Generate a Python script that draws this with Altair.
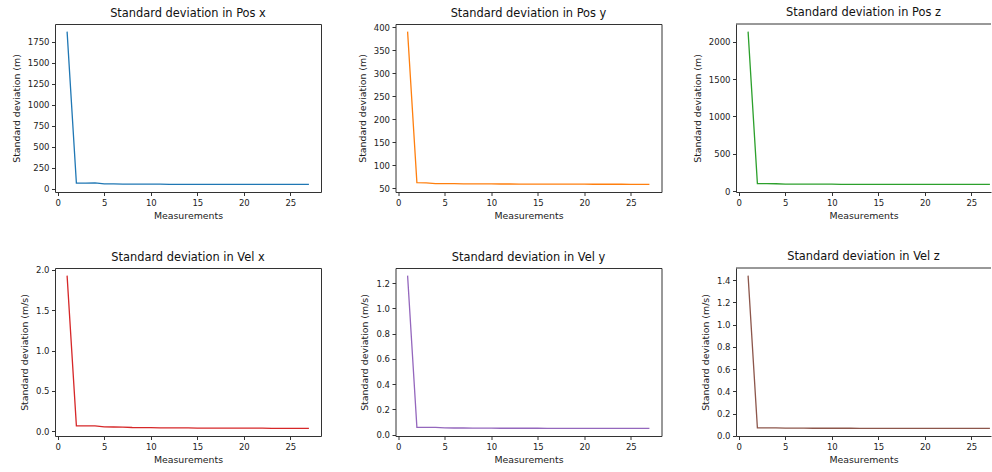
import altair as alt
import pandas as pd

measurements = list(range(1, 28))

pos_x = [1870, 65, 66, 68, 57, 56, 55, 54, 54, 53, 53, 52, 52, 52, 52, 52, 51, 51, 51, 51, 51, 51, 51, 51, 51, 51, 51]
pos_y = [390, 62, 61.5, 60, 59.8, 59.6, 59.4, 59.3, 59.2, 59.1, 59, 59, 58.9, 58.9, 58.8, 58.8, 58.7, 58.7, 58.6, 58.6, 58.5, 58.5, 58.4, 58.4, 58.3, 58.3, 58.2]
pos_z = [2135, 102, 101, 100, 96, 95, 95, 94, 94, 94, 93, 93, 93, 93, 93, 93, 92, 92, 92, 92, 92, 92, 92, 92, 92, 92, 92]
vel_x = [1.93, 0.066, 0.066, 0.065, 0.054, 0.052, 0.050, 0.046, 0.045, 0.044, 0.042, 0.041, 0.040, 0.040, 0.039, 0.039, 0.038, 0.038, 0.038, 0.037, 0.037, 0.037, 0.036, 0.036, 0.036, 0.035, 0.035]
vel_y = [1.26, 0.058, 0.058, 0.058, 0.054, 0.053, 0.053, 0.052, 0.052, 0.052, 0.051, 0.051, 0.051, 0.051, 0.051, 0.050, 0.050, 0.050, 0.050, 0.050, 0.050, 0.050, 0.050, 0.050, 0.050, 0.050, 0.050]
vel_z = [1.44, 0.073, 0.073, 0.073, 0.071, 0.070, 0.070, 0.069, 0.069, 0.069, 0.069, 0.069, 0.068, 0.068, 0.068, 0.068, 0.068, 0.068, 0.068, 0.068, 0.068, 0.068, 0.068, 0.068, 0.068, 0.068, 0.068]

titles = ["Standard deviation in Pos x", "Standard deviation in Pos y", "Standard deviation in Pos z",
          "Standard deviation in Vel x", "Standard deviation in Vel y", "Standard deviation in Vel z"]
y_titles = ["Standard deviation (m)"] * 3 + ["Standard deviation (m/s)"] * 3
colors = ["#1f77b4", "#ff7f0e", "#2ca02c", "#d62728", "#9467bd", "#8c564b"]
y_ticks = [
    [0, 250, 500, 750, 1000, 1250, 1500, 1750],
    [50, 100, 150, 200, 250, 300, 350, 400],
    [0, 500, 1000, 1500, 2000],
    [0.0, 0.5, 1.0, 1.5, 2.0],
    [0.0, 0.2, 0.4, 0.6, 0.8, 1.0, 1.2],
    [0.0, 0.2, 0.4, 0.6, 0.8, 1.0, 1.2, 1.4],
]
y_formats = ["d", "d", "d", ".1f", ".1f", ".1f"]
x_ticks = [0, 5, 10, 15, 20, 25]
series = [pos_x, pos_y, pos_z, vel_x, vel_y, vel_z]

W, H = 266, 168
W_LAST = 255  # right column is cut by the picture's edge
LABEL_FS = 8.5
TITLE_OFFSET = 5


def panel(i):
    vals = series[i]
    lo, hi = min(vals), max(vals)
    m = 0.05 * (hi - lo)
    y_lo, y_hi = lo - m, hi + m
    xm = 0.05 * (measurements[-1] - measurements[0])
    x_lo, x_hi = measurements[0] - xm, measurements[-1] + xm
    last = (i % 3 == 2)
    width = W
    if last:
        width = W_LAST
        x_hi = x_lo + (x_hi - x_lo) * W_LAST / W
    # keep every title at the same height even when a top tick label pokes above the frame
    top_px = (y_hi - max(y_ticks[i])) / (y_hi - y_lo) * H
    overshoot = max(0.0, LABEL_FS / 2 - top_px)
    ttl = alt.TitleParams(titles[i], offset=TITLE_OFFSET - overshoot)

    df = pd.DataFrame({"Measurements": measurements, "value": vals})
    line = alt.Chart(df).mark_line(color=colors[i], strokeWidth=1.3, clip=True).encode(
        x=alt.X("Measurements:Q",
                scale=alt.Scale(domain=[x_lo, x_hi], nice=False, zero=False),
                axis=alt.Axis(values=x_ticks, format="d", title="Measurements",
                              labelPadding=3, titlePadding=4, domain=last)),
        y=alt.Y("value:Q",
                scale=alt.Scale(domain=[y_lo, y_hi], nice=False, zero=False),
                axis=alt.Axis(values=y_ticks[i], format=y_formats[i], title=y_titles[i],
                              labelPadding=2.5, titlePadding=6, domain=last)),
    )
    if not last:
        return line.properties(width=width, height=H, title=ttl)
    top = alt.Chart(pd.DataFrame({"edge": [0]})).mark_rule(color="#333", strokeWidth=1).encode(
        x=alt.value(0), x2=alt.value(width), y=alt.value(0)
    )
    return alt.layer(line, top).properties(
        width=width, height=H, title=ttl,
        view=alt.ViewBackground(stroke="transparent"),
    )


chart = alt.concat(
    *[panel(i) for i in range(6)],
    columns=3,
    spacing={"row": 76, "column": 74.5},
    bounds="flush",
).properties(
    padding={"left": 10, "top": 6, "right": 0, "bottom": 0},
    background="white",
).configure_view(
    stroke="#333", strokeWidth=1
).configure_axis(
    grid=False, tickColor="#333", tickSize=3.5, tickWidth=1, domainColor="#333", domainWidth=1,
    labelFont="DejaVu Sans", labelFontSize=LABEL_FS, labelColor="#222",
    titleFont="DejaVu Sans", titleFontSize=9.4, titleFontWeight="normal", titleColor="#222",
).configure_title(
    font="DejaVu Sans", fontSize=11.4, fontWeight="normal", color="#111", anchor="middle"
)

chart.save("out.html", embed_options={"renderer": "svg", "actions": False})
